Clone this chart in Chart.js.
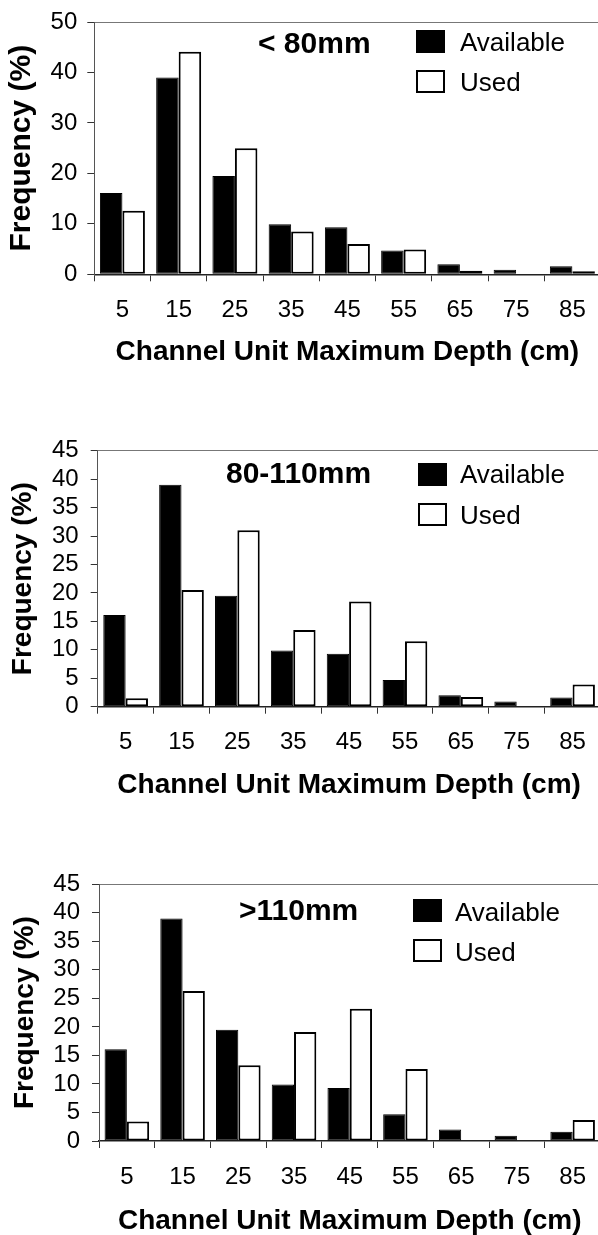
<!DOCTYPE html>
<html>
<head>
<meta charset="utf-8">
<script src="https://cdn.jsdelivr.net/npm/chart.js@4"></script>
<style>
  html, body { margin: 0; padding: 0; background: #fff; overflow: hidden; width: 598px; height: 1235px; }
  canvas { position: absolute; left: 0; }
</style>
</head>
<body>
<canvas id="under80" width="610" height="400" style="top:0px"></canvas>
<canvas id="mid" width="610" height="430" style="top:400px"></canvas>
<canvas id="over110" width="610" height="420" style="top:840px"></canvas>
<script>
// channel unit max depth classes (cm)
const depthLabels = ['5', '15', '25', '35', '45', '55', '65', '75', '85'];

// % of channel units available (same in every panel)
const available = [16.1, 39.0, 19.5, 9.9, 9.3, 4.7, 2.0, 0.9, 1.6];

// % used, by fish size class
const usedUnder80 = [12.6, 44.1, 25.0, 8.5, 6.0, 4.9, 0.7, 0, 0.6];
const used80to110 = [1.5, 20.5, 31.0, 13.5, 18.5, 11.5, 1.7, 0, 3.9];
const usedOver110 = [3.4, 26.3, 13.3, 19.1, 23.2, 12.6, 0, 0, 3.7];

const FONT = '"Liberation Sans", Arial, Helvetica, sans-serif';

// title text + legend boxes drawn inside the plot
const panelDecor = {
    id: 'panelDecor',
    afterDraw(chart, args, opts) {
        const ctx = chart.ctx;
        ctx.save();
        ctx.textAlign = 'left';
        ctx.textBaseline = 'alphabetic';
        ctx.fillStyle = '#000';
        ctx.font = 'bold 30px ' + FONT;
        ctx.fillText(opts.title, opts.titleX, opts.titleY);
        ctx.font = '26px ' + FONT;
        chart.data.datasets.forEach((ds, i) => {
            const y = opts.boxY[i];
            ctx.fillStyle = ds.backgroundColor;
            ctx.fillRect(opts.boxX, y, 29, 23);
            ctx.lineWidth = 2;
            ctx.strokeStyle = '#000';
            ctx.strokeRect(opts.boxX + 1, y + 1, 27, 21);
            ctx.fillStyle = '#000';
            ctx.fillText(ds.label, opts.textX, opts.textY[i]);
        });
        ctx.restore();
    }
};

function makePanel(id, used, p) {
    const canvas = document.getElementById(id);
    return new Chart(canvas, {
        type: 'bar',
        data: {
            labels: depthLabels,
            datasets: [{
                label: 'Available',
                data: available,
                backgroundColor: '#000',
                borderColor: '#000',
                borderWidth: 1,
                borderSkipped: false
            }, {
                label: 'Used',
                data: used,
                backgroundColor: '#fff',
                borderColor: '#000',
                borderWidth: 2,
                borderSkipped: false
            }]
        },
        options: {
            responsive: false,
            animation: false,
            layout: {
                padding: { top: p.top, right: canvas.width - 600.5, left: 0, bottom: 0 }
            },
            datasets: {
                bar: { categoryPercentage: 0.8, barPercentage: 1.0 }
            },
            scales: {
                x: {
                    afterFit: s => { s.height = canvas.height - p.bottom; },
                    grid: {
                        offset: true,
                        drawOnChartArea: false,
                        tickLength: 7,
                        tickColor: '#333'
                    },
                    border: { color: '#222', width: 1.5 },
                    ticks: {
                        padding: 14.5,
                        color: '#000',
                        maxRotation: 0,
                        font: { family: FONT, size: 24 }
                    },
                    title: {
                        display: true,
                        text: 'Channel Unit Maximum Depth (cm)',
                        color: '#000',
                        font: { family: FONT, size: 28, weight: 'bold' },
                        padding: { top: 0, bottom: p.xTitlePad }
                    }
                },
                y: {
                    min: 0,
                    max: p.yMax,
                    afterFit: s => { s.width = p.left; },
                    grid: {
                        tickLength: 7,
                        tickColor: '#333',
                        color: c => (c.tick && c.tick.value === p.yMax) ? '#777' : 'rgba(0,0,0,0)'
                    },
                    border: { color: '#555', width: 1 },
                    ticks: {
                        stepSize: p.yStep,
                        autoSkip: false,
                        padding: p.yTickPad,
                        color: '#000',
                        font: { family: FONT, size: 24, lineHeight: 1 }
                    },
                    title: {
                        display: true,
                        text: 'Frequency (%)',
                        color: '#000',
                        font: { family: FONT, size: p.yTitleSize, weight: 'bold' },
                        padding: { top: p.yTitlePad, bottom: 0 }
                    }
                }
            },
            plugins: {
                legend: { display: false },
                tooltip: { enabled: false },
                panelDecor: p.decor
            }
        },
        plugins: [panelDecor]
    });
}

makePanel('under80', usedUnder80, {
    top: 15, bottom: 274.3, left: 94.3, yMax: 50, yStep: 10,
    yTickPad: 10, yTitleSize: 30, yTitlePad: 4, xTitlePad: 31,
    decor: { title: '< 80mm', titleX: 258, titleY: 53, boxX: 416, boxY: [30, 70], textX: 460, textY: [51, 91] }
});

makePanel('mid', used80to110, {
    top: 50.7, bottom: 306.7, left: 97.7, yMax: 45, yStep: 5,
    yTickPad: 12, yTitleSize: 28, yTitlePad: 6, xTitlePad: 28,
    decor: { title: '80-110mm', titleX: 226, titleY: 83, boxX: 418, boxY: [63, 103], textX: 460, textY: [83, 124] }
});

makePanel('over110', usedOver110, {
    top: 44.3, bottom: 301, left: 99, yMax: 45, yStep: 5,
    yTickPad: 12, yTitleSize: 28, yTitlePad: 8, xTitlePad: 21.5,
    decor: { title: '>110mm', titleX: 239, titleY: 80, boxX: 413, boxY: [59, 99], textX: 455, textY: [81, 121] }
});
</script>
</body>
</html>
